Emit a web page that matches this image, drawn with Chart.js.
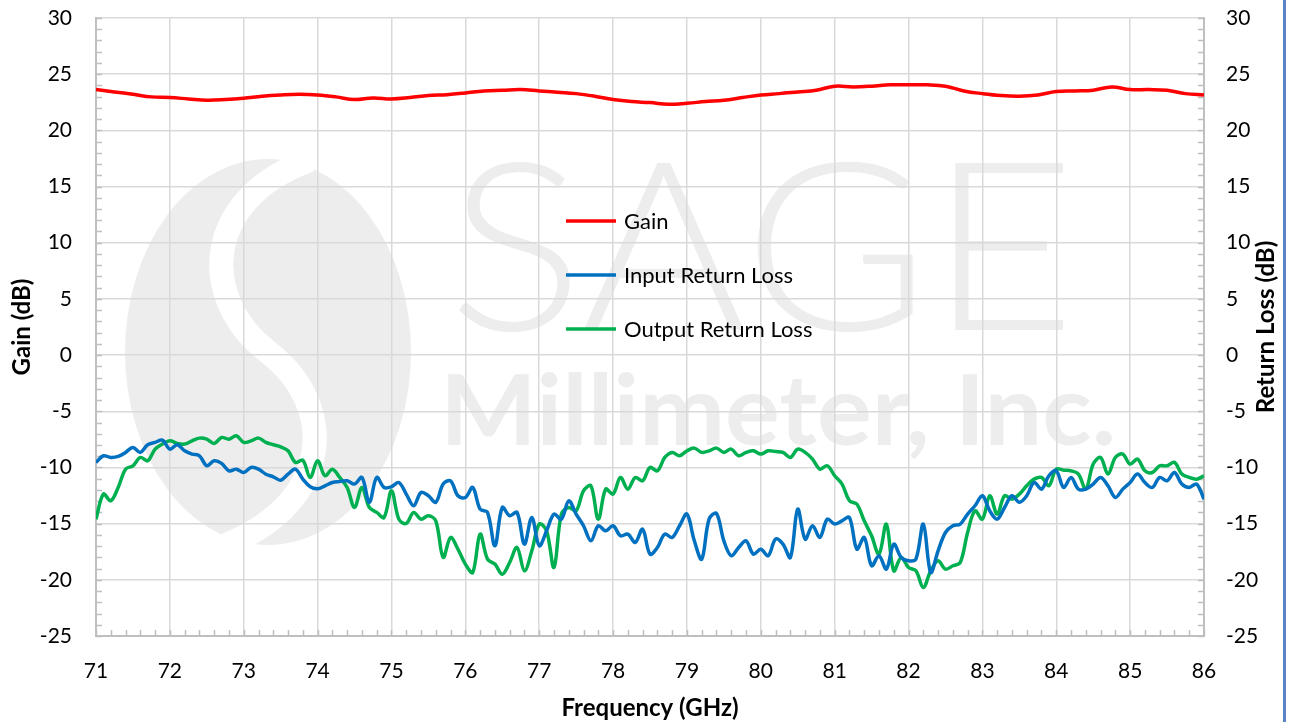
<!DOCTYPE html>
<html lang="en">
<head>
    <meta charset="UTF-8">
    <title>Gain and Return Loss</title>
    <script src="https://cdn.jsdelivr.net/npm/chart.js"></script>
    <style>
        body { margin: 0; background: #fff; }
        #wrap { position: absolute; left: 0; top: 0; width: 1283px; height: 722px; border-right: 3px solid #5a82c5; }
    </style>
</head>
<body>
<div id="wrap"><canvas id="gainChart" width="1283" height="722"></canvas></div>
<script>
    // Frequency grids (GHz)
    const gainFreq = [];
    for (let i = 0; i <= 60; i++) gainFreq.push(71 + i * 0.25);
    const rlFreq = [];
    for (let i = 0; i <= 150; i++) rlFreq.push(+(71 + i * 0.1).toFixed(1));

    // Gain (dB), every 0.25 GHz
    const gain = [23.63,23.42,23.21,22.98,22.92,22.80,22.68,22.74,22.86,23.04,23.15,23.21,23.15,22.98,22.74,22.89,
        22.80,22.92,23.10,23.18,23.33,23.51,23.57,23.63,23.51,23.39,23.27,23.04,22.74,22.56,22.47,22.32,22.41,
        22.56,22.68,22.92,23.15,23.27,23.42,23.57,23.93,23.87,23.93,24.05,24.05,24.05,23.93,23.51,23.27,23.10,
        23.04,23.15,23.45,23.51,23.57,23.87,23.63,23.63,23.57,23.27,23.15];

    // Input return loss (dB), every 0.1 GHz
    const inputRL = [
        -9.55,-8.96,-9.11,-9.02,-8.66,-8.22,-8.66,-7.98,-7.77,-7.57,
        -8.37,-7.98,-8.52,-8.81,-8.96,-9.85,-9.41,-9.64,-10.3,-10.15,
        -10.45,-10.0,-10.15,-10.6,-10.83,-11.13,-10.6,-10.15,-11.04,-11.72,
        -11.9,-11.63,-11.34,-11.25,-11.19,-11.48,-10.89,-13.1,-10.89,-11.78,
        -11.72,-11.34,-12.37,-13.41,-12.23,-12.52,-13.1,-11.48,-11.19,-12.52,
        -12.67,-11.78,-13.71,-14.0,-16.97,-13.56,-14.3,-14.0,-16.82,-14.45,
        -16.97,-15.64,-14.15,-14.6,-12.97,-14.15,-15.19,-16.53,-15.19,-15.64,
        -15.19,-16.08,-15.93,-16.68,-15.49,-17.72,-17.12,-15.93,-16.23,-15.19,
        -14.15,-16.53,-18.16,-14.6,-14.09,-16.53,-17.86,-17.12,-16.53,-17.72,
        -17.27,-17.86,-16.38,-16.82,-18.01,-13.71,-16.38,-15.19,-16.23,-14.6,
        -15.04,-14.75,-14.45,-17.27,-16.23,-18.75,-17.86,-19.05,-16.82,-18.01,
        -18.31,-18.16,-15.04,-19.35,-17.42,-15.79,-15.19,-15.04,-14.15,-13.41,
        -12.52,-13.86,-14.6,-13.56,-12.52,-13.1,-12.52,-11.34,-11.93,-10.74,
        -10.3,-11.78,-10.89,-11.93,-11.93,-11.48,-10.89,-11.63,-12.67,-11.93,
        -11.34,-10.59,-11.34,-11.78,-10.89,-11.19,-10.45,-11.48,-11.78,-11.48,
        -12.82];

    // Output return loss (dB), every 0.1 GHz
    const outputRL = [
        -14.6,-12.37,-12.97,-11.78,-10.15,-9.85,-9.11,-9.41,-8.37,-7.92,
        -7.63,-7.86,-7.92,-7.63,-7.39,-7.48,-7.86,-7.33,-7.48,-7.18,
        -7.77,-7.63,-7.39,-7.77,-7.98,-8.16,-8.52,-9.55,-9.35,-10.89,
        -9.41,-10.74,-10.15,-10.89,-11.78,-13.56,-11.78,-13.56,-14.0,-14.45,
        -12.08,-14.6,-14.99,-14.0,-14.6,-14.3,-14.75,-18.01,-16.23,-17.27,
        -18.6,-19.35,-15.93,-18.16,-18.6,-19.5,-18.46,-17.12,-19.2,-17.42,
        -15.04,-15.64,-18.9,-14.15,-13.56,-13.86,-12.08,-11.63,-14.6,-11.93,
        -12.37,-10.89,-11.93,-10.89,-11.19,-10.0,-10.3,-9.11,-8.66,-8.96,
        -8.52,-8.28,-8.66,-8.52,-8.28,-8.66,-8.37,-8.96,-8.66,-8.52,
        -8.81,-8.52,-8.58,-8.66,-9.11,-8.37,-8.66,-9.26,-10.15,-9.85,
        -10.74,-11.48,-12.97,-13.26,-14.75,-16.08,-17.72,-15.04,-19.2,-18.01,
        -18.9,-19.2,-20.68,-19.2,-18.31,-19.05,-18.75,-18.46,-15.79,-13.86,
        -14.6,-12.52,-14.15,-12.52,-12.82,-12.37,-11.63,-11.04,-10.89,-11.63,
        -10.15,-10.24,-10.3,-10.59,-11.93,-9.7,-9.11,-10.59,-9.11,-8.81,
        -9.7,-9.26,-10.3,-10.45,-9.85,-9.85,-9.55,-10.59,-10.89,-11.04,
        -10.74];

    const seriesNames = ['Gain', 'Input Return Loss', 'Output Return Loss'];
    const seriesColors = ['#ff0000', '#0070c0', '#00b050'];
    const yTitleLeft = 'Gain (dB)';
    const yTitleRight = 'Return Loss (dB)';
    const xTitle = 'Frequency (GHz)';

    const FONT = 'Lato, "Open Sans", sans-serif';

    // background watermark (logo + company name)
    const watermark = {
        id: 'watermark',
        beforeDraw(chart) {
            const ctx = chart.ctx;
            ctx.save();
            ctx.fillStyle = '#ededed';
            ctx.beginPath();
            ctx.ellipse(268, 352, 143, 193, 0, 0, Math.PI * 2);
            ctx.fill();
            // S swirl
            ctx.strokeStyle = '#ffffff';
            ctx.lineWidth = 24;
            ctx.beginPath();
            ctx.moveTo(310, 160);
            ctx.bezierCurveTo(200, 200, 200, 300, 268, 352);
            ctx.bezierCurveTo(336, 404, 336, 500, 226, 545);
            ctx.stroke();

            ctx.fillStyle = '#ededed';
            ctx.textBaseline = 'alphabetic';
            ctx.textAlign = 'left';
            ctx.font = '300 236px ' + FONT;
            let w = ctx.measureText('SAGE').width;
            ctx.save();
            ctx.translate(448, 330);
            ctx.scale(628 / w, 1);
            ctx.fillText('SAGE', 0, 0);
            ctx.restore();

            ctx.font = 'bold 98px ' + FONT;
            w = ctx.measureText('Millimeter, Inc.').width;
            ctx.save();
            ctx.translate(440, 445);
            ctx.scale(676 / w, 1);
            ctx.fillText('Millimeter, Inc.', 0, 0);
            ctx.restore();
            ctx.restore();
        }
    };

    // inward minor tick marks, axis titles and in-plot legend
    const decorations = {
        id: 'decorations',
        beforeDatasetsDraw(chart) {
            const { ctx, chartArea: { left, right, top, bottom }, scales: { x, y } } = chart;
            ctx.save();
            ctx.strokeStyle = '#bfbfbf';
            ctx.lineWidth = 1.5;
            ctx.beginPath();
            for (let i = 0; i <= 75; i++) {
                const px = Math.round(x.getPixelForValue(71 + i * 0.2)) + 0.5;
                ctx.moveTo(px, bottom);
                ctx.lineTo(px, bottom - 6);
            }
            for (let v = -25; v <= 30; v++) {
                const py = Math.round(y.getPixelForValue(v)) + 0.5;
                ctx.moveTo(left, py);
                ctx.lineTo(left + 6, py);
                ctx.moveTo(right, py);
                ctx.lineTo(right - 6, py);
            }
            ctx.stroke();
            ctx.restore();
        },
        afterDraw(chart) {
            const { ctx, chartArea: { left, right, top, bottom } } = chart;
            const midY = (top + bottom) / 2;
            ctx.save();
            ctx.fillStyle = '#000';
            ctx.font = 'bold 24px ' + FONT;
            ctx.textAlign = 'center';
            ctx.textBaseline = 'middle';
            ctx.fillText(xTitle, (left + right) / 2, 708);
            ctx.save();
            ctx.translate(22, midY);
            ctx.rotate(-Math.PI / 2);
            ctx.fillText(yTitleLeft, 0, 0);
            ctx.restore();
            ctx.save();
            ctx.translate(1266, midY);
            ctx.rotate(-Math.PI / 2);
            ctx.fillText(yTitleRight, 0, 0);
            ctx.restore();

            // legend
            ctx.font = '22px ' + FONT;
            ctx.textAlign = 'left';
            chart.data.datasets.forEach((ds, i) => {
                const ly = 221 + i * 54;
                ctx.strokeStyle = ds.borderColor;
                ctx.lineWidth = 3.5;
                ctx.beginPath();
                ctx.moveTo(566, ly);
                ctx.lineTo(616, ly);
                ctx.stroke();
                ctx.fillText(ds.label, 624, ly + 1);
            });
            ctx.restore();
        }
    };

    const tickFont = { family: FONT, size: 21 };
    const noPad = s => { s.paddingTop = 0; s.paddingBottom = 0; s.paddingLeft = 0; s.paddingRight = 0; };

    new Chart(document.getElementById('gainChart'), {
        type: 'line',
        data: {
            datasets: [
                {
                    label: seriesNames[0],
                    data: gain.map((v, i) => ({ x: gainFreq[i], y: v })),
                    borderColor: seriesColors[0],
                    borderWidth: 3.5,
                    pointRadius: 0,
                    tension: 0.4,
                    yAxisID: 'y'
                },
                {
                    label: seriesNames[1],
                    data: inputRL.map((v, i) => ({ x: rlFreq[i], y: v })),
                    borderColor: seriesColors[1],
                    borderWidth: 3.5,
                    pointRadius: 0,
                    tension: 0.35,
                    yAxisID: 'y2'
                },
                {
                    label: seriesNames[2],
                    data: outputRL.map((v, i) => ({ x: rlFreq[i], y: v })),
                    borderColor: seriesColors[2],
                    borderWidth: 3.5,
                    pointRadius: 0,
                    tension: 0.35,
                    yAxisID: 'y2'
                }
            ]
        },
        options: {
            responsive: false,
            animation: false,
            layout: { padding: { top: 18, left: 0, right: 0, bottom: 0 } },
            plugins: { legend: { display: false }, tooltip: { enabled: false } },
            scales: {
                x: {
                    type: 'linear',
                    min: 71,
                    max: 86,
                    afterFit: s => { s.height = 86; noPad(s); },
                    ticks: { stepSize: 1, font: tickFont, color: '#000', padding: 23, maxRotation: 0 },
                    grid: { color: '#d9d9d9', lineWidth: 1.5, drawTicks: false },
                    border: { color: '#bfbfbf', width: 2 }
                },
                y: {
                    position: 'left',
                    min: -25,
                    max: 30,
                    afterFit: s => { s.width = 96; noPad(s); },
                    ticks: { stepSize: 5, font: tickFont, color: '#000', padding: 24 },
                    grid: { color: '#d9d9d9', lineWidth: 1.5, drawTicks: false },
                    border: { color: '#bfbfbf', width: 2 }
                },
                y2: {
                    position: 'right',
                    min: -25,
                    max: 30,
                    afterFit: s => { s.width = 79; noPad(s); },
                    ticks: { stepSize: 5, font: tickFont, color: '#000', padding: 22 },
                    grid: { display: false, drawTicks: false },
                    border: { color: '#bfbfbf', width: 2 }
                }
            }
        },
        plugins: [watermark, decorations]
    });
</script>
</body>
</html>
